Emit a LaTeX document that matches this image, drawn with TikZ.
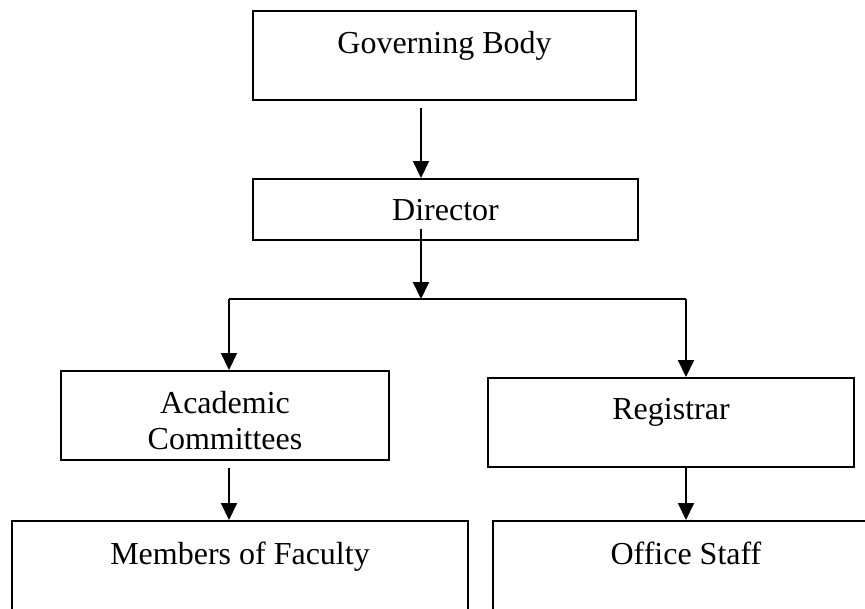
\documentclass[tikz,border=0pt]{standalone}
\usepackage{fontspec}
\setmainfont{Liberation Serif}
\usetikzlibrary{arrows.meta,positioning}

\begin{document}
\begin{tikzpicture}[x=0.75pt,y=-0.75pt,
  box/.style={draw,line width=1.5pt,rectangle,inner sep=0pt},
  lbl/.style={anchor=north,inner sep=0pt,yshift=-16pt,align=center,font=\fontsize{24}{27}\selectfont},
  arr/.style={-{Triangle[length=12.75pt,width=12pt]},line width=1.5pt}]
\clip (0,0) rectangle (865,608);

% boxes
\node[box,minimum width=287.25pt,minimum height=66.75pt,label={[lbl]north:Governing Body}] (gb) at (444.5,55.5) {};
\node[box,minimum width=288.75pt,minimum height=45.75pt,label={[lbl]north:Director}] (dir) at (445.5,209.5) {};
\node[box,minimum width=246pt,minimum height=66.75pt,label={[lbl]north:Academic\\Committees}] (acad) at (225,415.5) {};
\node[box,minimum width=274.5pt,minimum height=66.75pt,label={[lbl]north:Registrar}] (reg) at (671,422.5) {};
\node[box,minimum width=342pt,minimum height=104.25pt,label={[lbl]north:Members of Faculty}] (mem) at (240,590.5) {};
\node[box,minimum width=289.5pt,minimum height=104.25pt,label={[lbl]north:Office Staff}] (off) at (686,590.5) {};

% branch points
\coordinate (trunk) at (421,299);
\coordinate (lft) at (229,299);
\coordinate (rgt) at (686,299);

\draw[arr,shorten <=5pt] (gb.south -| trunk) -- (dir.north -| trunk);
\draw[arr] ([yshift=9pt]dir.south -| trunk) -- (trunk);
\draw[line width=1.5pt] (lft) -- (rgt);
\draw[arr] (lft) -- (lft |- acad.north);
\draw[arr] (rgt) -- (rgt |- reg.north);
\draw[arr,shorten <=5pt] (lft |- acad.south) -- (lft |- mem.north);
\draw[arr] (rgt |- reg.south) -- (rgt |- off.north);
\end{tikzpicture}
\end{document}
